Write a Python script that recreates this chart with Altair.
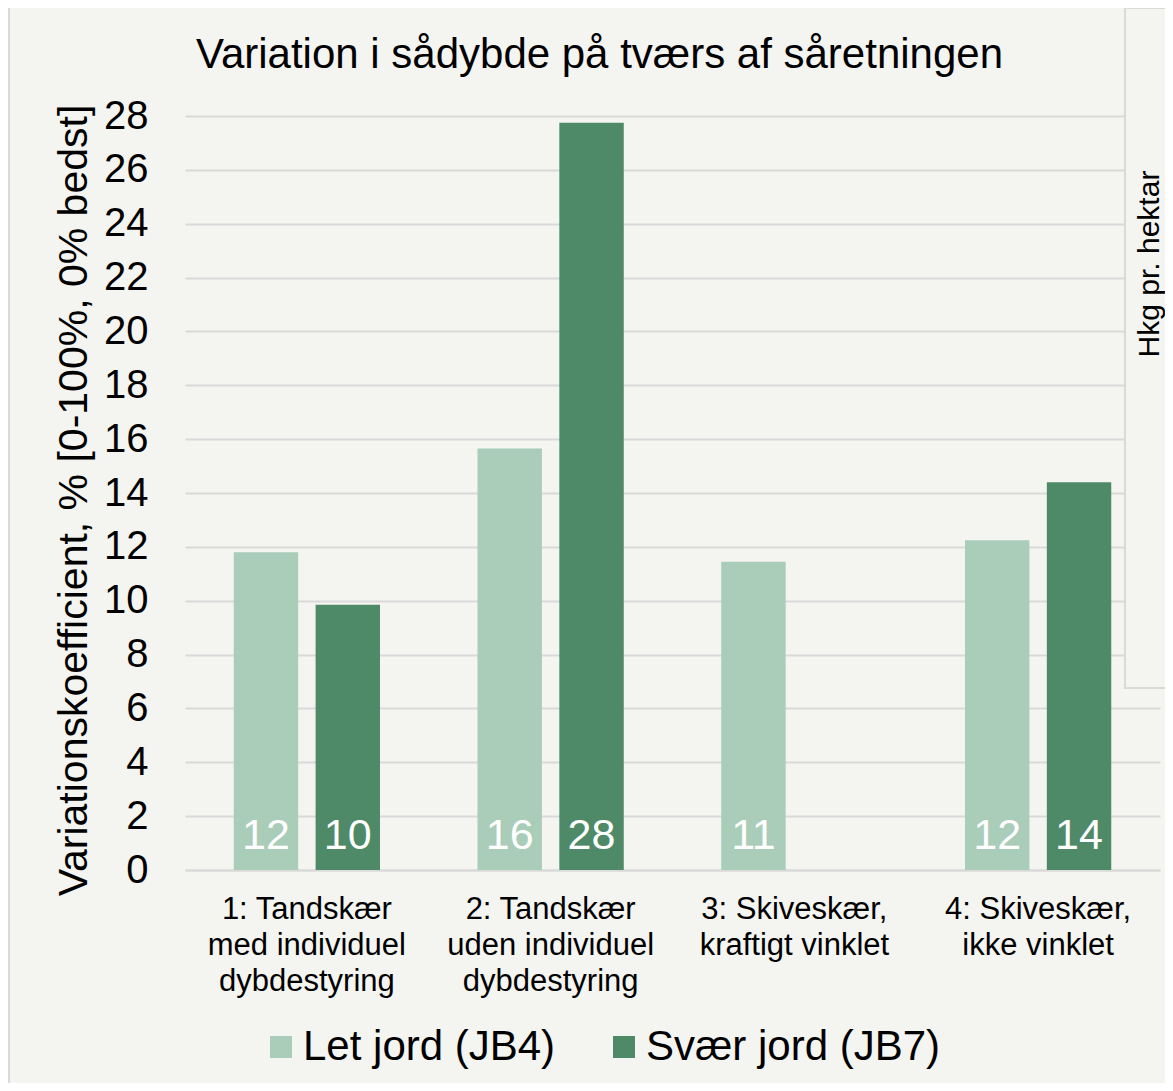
import altair as alt
import pandas as pd

FONT = "Liberation Sans"
BG = "#f4f4f0"
GRID = "#d9d9d9"

categories = [
    "1: Tandskær\nmed individuel\ndybdestyring",
    "2: Tandskær\nuden individuel\ndybdestyring",
    "3: Skiveskær,\nkraftigt vinklet",
    "4: Skiveskær,\nikke vinklet",
]
series = ["Let jord (JB4)", "Svær jord (JB7)"]
light_values = [11.8, 15.65, 11.45, 12.25]
heavy_values = [9.85, 27.75, None, 14.4]
colors = ["#a9cdb8", "#4e8a67"]
y_ticks = [0, 2, 4, 6, 8, 10, 12, 14, 16, 18, 20, 22, 24, 26, 28]

title_text = "Variation i sådybde på tværs af såretningen"
y_title = "Variationskoefficient, % [0-100%, 0% bedst]"
panel_text = ["Hkg pr. hektar"]

rows = []
for c, v in zip(categories, light_values):
    if v is not None:
        rows.append({"cat": c, "serie": series[0], "value": v})
for c, v in zip(categories, heavy_values):
    if v is not None:
        rows.append({"cat": c, "serie": series[1], "value": v})
df = pd.DataFrame(rows)

x_enc = alt.X(
    "cat:N",
    sort=categories,
    scale=alt.Scale(paddingInner=0.4, paddingOuter=0.2),
    axis=alt.Axis(
        title=None,
        labelExpr="split(datum.label, '\\n')",
        labelFont=FONT,
        labelFontSize=31,
        labelLineHeight=36,
        labelColor="black",
        labelPadding=24,
        labelLimit=400,
        labelAngle=0,
        ticks=False,
        domain=True,
        domainColor=GRID,
        domainWidth=2,
        grid=False,
    ),
)
xoff_enc = alt.XOffset(
    "serie:N",
    sort=series,
    scale=alt.Scale(domain=series, paddingInner=0.213, paddingOuter=0),
)
y_enc = alt.Y(
    "value:Q",
    scale=alt.Scale(domain=[0, 28], nice=False),
    axis=alt.Axis(
        title=y_title,
        titleFont=FONT,
        titleFontSize=41,
        titleFontWeight="normal",
        titleColor="black",
        titlePadding=8,
        titleY=384,
        values=y_ticks,
        labelFont=FONT,
        labelFontSize=40,
        labelColor="black",
        labelPadding=37,
        ticks=False,
        domain=False,
        grid=True,
        gridColor=GRID,
        gridWidth=2,
    ),
)

base = alt.Chart(df)

bars = base.mark_bar().encode(
    x=x_enc,
    xOffset=xoff_enc,
    y=y_enc,
    color=alt.Color(
        "serie:N",
        sort=series,
        scale=alt.Scale(domain=series, range=colors),
        legend=alt.Legend(
            title=None,
            orient="none",
            direction="horizontal",
            legendX=75,
            legendY=910,
            symbolType="square",
            symbolSize=484,
            symbolStrokeWidth=0,
            labelFont=FONT,
            labelFontSize=42,
            labelColor="black",
            labelOffset=1,
            columnPadding=47,
            labelLimit=400,
        ),
    ),
)

labels = base.mark_text(
    color="white",
    font=FONT,
    fontSize=43,
    baseline="alphabetic",
    dy=-21,
).encode(
    x=alt.X("cat:N", sort=categories),
    xOffset=alt.XOffset("serie:N", sort=series, scale=alt.Scale(domain=series)),
    y=alt.datum(0),
    text=alt.Text("value:Q", format=".0f"),
)

panel_df = pd.DataFrame({"t": panel_text})
panel = alt.Chart(panel_df).mark_rect(
    fill=BG, stroke=GRID, strokeWidth=2
).encode(
    x=alt.value(940),
    x2=alt.value(1010),
    y=alt.value(-108),
    y2=alt.value(572),
)
panel_label = alt.Chart(panel_df).mark_text(
    font=FONT, fontSize=30, color="black", angle=270, align="center", baseline="alphabetic"
).encode(
    x=alt.value(974),
    y=alt.value(148),
    text="t:N",
)
frame = alt.Chart(panel_df).mark_rule(color=GRID, strokeWidth=2).encode(
    x=alt.value(-176),
    y=alt.value(-108),
    y2=alt.value(971),
)

chart = (
    alt.layer(bars, labels, panel, panel_label, frame)
    .properties(
        width=975,
        height=754,
        autosize=alt.AutoSizeParams(type="none"),
        padding={"left": 177, "top": 108, "right": 5, "bottom": 213},
        background=BG,
        title=alt.TitleParams(
            text=title_text,
            font=FONT,
            fontSize=42,
            fontWeight="normal",
            color="black",
            anchor="middle",
            frame="group",
            dx=-73,
            offset=-103,
            baseline="alphabetic",
        ),
    )
    .configure_view(stroke=None)
)

chart.save("out.html", embed_options={"renderer": "svg", "actions": False})
